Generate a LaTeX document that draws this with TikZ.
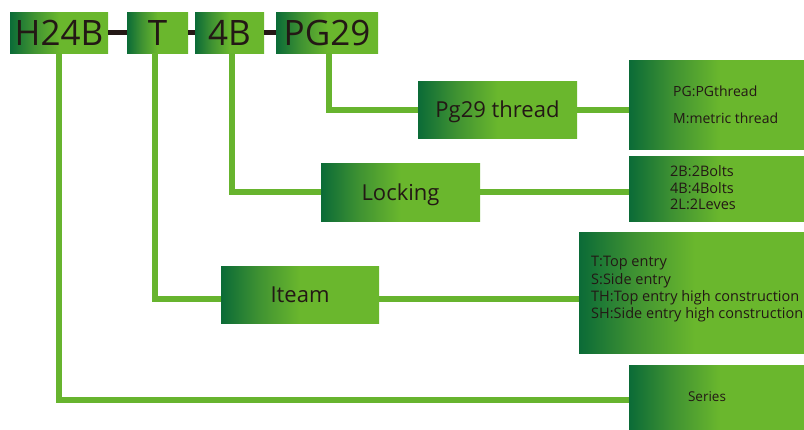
\documentclass[tikz,border=0pt]{standalone}
\usepackage{fontspec}
\setmainfont{Open Sans}
\definecolor{gdark}{HTML}{0B6B37}
\definecolor{gmid}{HTML}{3F9232}
\definecolor{glight}{HTML}{6AB72D}
\definecolor{lineg}{HTML}{67B42E}
\definecolor{txtc}{HTML}{231815}
\pgfdeclarehorizontalshading{gboxshade}{100bp}{color(0bp)=(gdark); color(25bp)=(gdark); color(37bp)=(gmid); color(50bp)=(glight); color(100bp)=(glight)}
\tikzset{
  gbox/.style={shading=gboxshade, draw=none, rectangle, inner sep=0pt, text=txtc},
  bigtxt/.style={font=\fontsize{35}{40}\selectfont, text height=25pt, text depth=0pt},
  midtxt/.style={font=\fontsize{22}{26}\selectfont, text height=16pt, text depth=0pt},
  txt/.style={inner sep=0pt, text=txtc, align=left},
  gline/.style={draw=lineg, line width=6pt},
  dline/.style={draw=txtc, line width=5pt},
}
\begin{document}
\begin{tikzpicture}[x=1pt,y=-1pt]
\useasboundingbox (0,0) rectangle (804,429);
% top code boxes
\node[gbox, bigtxt, minimum width=98pt, minimum height=41pt] (h24b) at (59,32.5) {H24B};
\node[gbox, bigtxt, minimum width=61pt, minimum height=41pt] (t) at (157.5,32.5) {T};
\node[gbox, bigtxt, minimum width=69pt, minimum height=41pt] (fb) at (229.5,32.5) {4B};
\node[gbox, bigtxt, minimum width=102pt, minimum height=41pt] (pg) at (327,32.5) {PG29};
\draw[dline] (h24b.east) -- (t.west);
\draw[dline] (t.east) -- (fb.west);
\draw[dline] (fb.east) -- (pg.west);
% middle boxes
\node[gbox, midtxt, minimum width=159pt, minimum height=57pt] (pgt) at (497.5,109.5) {Pg29 thread};
\node[gbox, midtxt, minimum width=159pt, minimum height=58pt] (lock) at (400.5,192) {Locking};
\node[gbox, midtxt, minimum width=158pt, minimum height=57pt] (item) at (300,294.5) {Iteam};
% right boxes
\node[gbox, anchor=north west, minimum width=181pt, minimum height=89pt] (o1) at (629,60) {};
\node[gbox, anchor=north west, minimum width=181pt, minimum height=65pt] (o2) at (629,156) {};
\node[gbox, anchor=north west, minimum width=231pt, minimum height=121pt] (o3) at (579,232) {};
\node[gbox, anchor=north west, minimum width=181pt, minimum height=70pt] (o4) at (629,365) {};
\node[txt, anchor=west, font=\fontsize{14}{27}\selectfont] (o1t) at (673,104.5) {PG:PGthread\\M:metric thread};
\node[txt, anchor=west, font=\fontsize{14.5}{16.5}\selectfont] (o2t) at (670,188) {2B:2Bolts\\4B:4Bolts\\2L:2Leves};
\node[txt, anchor=west, font=\fontsize{14.5}{17.3}\selectfont] (o3t) at (591,289.5) {T:Top entry\\S:Side entry\\TH:Top entry high construction\\SH:Side entry high construction};
\node[txt, font=\fontsize{13.5}{16}\selectfont] (o4t) at (707,397) {Series};
% connectors
\draw[gline] ([xshift=1.5pt]pg.south) |- (pgt.west);
\draw[gline] (pgt.east) -- (pgt.east -| o1.west);
\draw[gline] ([xshift=2pt]fb.south) |- (lock.west);
\draw[gline] (lock.east) -- (lock.east -| o2.west);
\draw[gline] ([xshift=-2.5pt]t.south) |- ([yshift=-4pt]item.west);
\draw[gline] ([yshift=-4pt]item.east) -- ([yshift=-4pt]item.east -| o3.west);
\draw[gline] (h24b.south) |- (o4.west);
\end{tikzpicture}
\end{document}
